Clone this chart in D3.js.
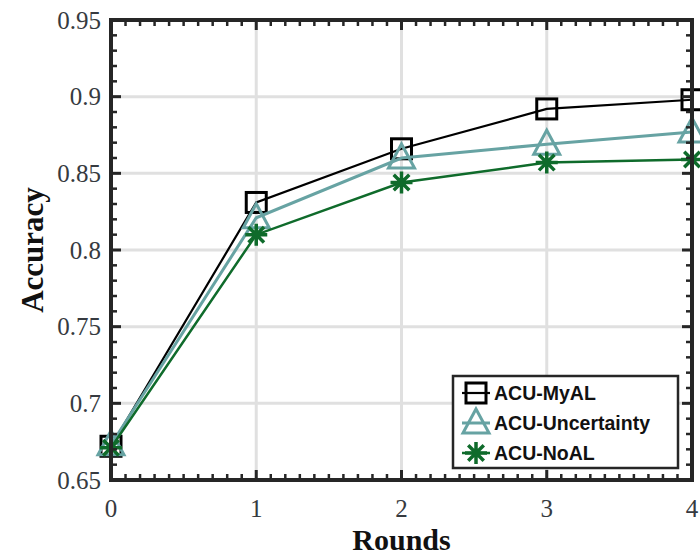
<!DOCTYPE html>
<html>
<head>
<meta charset="utf-8">
<script src="https://cdn.jsdelivr.net/npm/d3@7"></script>
<style>
  body { margin: 0; background: #fff; }
  svg { display: block; }
</style>
</head>
<body>
<div id="container"></div>
<script>
const width = 700;
const height = 556;
const margin = { top: 20, right: 8, bottom: 76, left: 111 };

const rounds = [0, 1, 2, 3, 4];
const myAL = [0.672, 0.831, 0.866, 0.892, 0.898];
const uncertainty = [0.673, 0.821, 0.860, 0.869, 0.877];
const noAL = [0.671, 0.810, 0.844, 0.857, 0.859];
const yTicks = [0.65, 0.7, 0.75, 0.8, 0.85, 0.9, 0.95];
const yTickLabels = ["0.65", "0.7", "0.75", "0.8", "0.85", "0.9", "0.95"];

const series = [
  { name: "ACU-MyAL", values: myAL, color: "#000000", width: 2.2, marker: "square" },
  { name: "ACU-Uncertainty", values: uncertainty, color: "#67a3a3", width: 3, marker: "triangle" },
  { name: "ACU-NoAL", values: noAL, color: "#0f6b2b", width: 2.5, marker: "star" }
];

const xScale = d3.scaleLinear()
  .domain([0, 4])
  .range([margin.left, width - margin.right]);

const yScale = d3.scaleLinear()
  .domain([0.65, 0.95])
  .range([height - margin.bottom, margin.top]);

const svg = d3.select("#container")
  .append("svg")
  .attr("width", width)
  .attr("height", height);

const x0 = xScale.range()[0], x1 = xScale.range()[1];
const y0 = yScale.range()[0], y1 = yScale.range()[1];

// grid
svg.append("g")
  .selectAll("line.gx")
  .data(rounds)
  .join("line")
  .attr("x1", d => xScale(d)).attr("x2", d => xScale(d))
  .attr("y1", y0).attr("y2", y1)
  .attr("stroke", "#e0e0e0").attr("stroke-width", 3);

svg.append("g")
  .selectAll("line.gy")
  .data(yTicks)
  .join("line")
  .attr("y1", d => yScale(d)).attr("y2", d => yScale(d))
  .attr("x1", x0).attr("x2", x1)
  .attr("stroke", "#e0e0e0").attr("stroke-width", 3);

// lines
const line = d3.line()
  .x((d, i) => xScale(rounds[i]))
  .y(d => yScale(d));

function drawMarker(g, type, color, cx, cy) {
  if (type === "square") {
    g.append("rect")
      .attr("x", cx - 10).attr("y", cy - 10)
      .attr("width", 20).attr("height", 20)
      .attr("fill", "none").attr("stroke", color).attr("stroke-width", 3);
  } else if (type === "triangle") {
    g.append("path")
      .attr("d", `M${cx},${cy - 14} L${cx + 13},${cy + 10} L${cx - 13},${cy + 10} Z`)
      .attr("fill", "none").attr("stroke", color).attr("stroke-width", 3)
      .attr("stroke-linejoin", "miter");
  } else {
    const r = 11;
    let d = "";
    [0, 45, 90, 135].forEach(a => {
      const rad = a * Math.PI / 180;
      d += `M${cx - r * Math.cos(rad)},${cy - r * Math.sin(rad)} L${cx + r * Math.cos(rad)},${cy + r * Math.sin(rad)} `;
    });
    g.append("path")
      .attr("d", d)
      .attr("stroke", color).attr("stroke-width", 3.5);
  }
}

series.forEach(s => {
  const g = svg.append("g");
  g.append("path")
    .datum(s.values)
    .attr("d", line)
    .attr("fill", "none")
    .attr("stroke", s.color)
    .attr("stroke-width", s.width);
  s.values.forEach((v, i) => drawMarker(g, s.marker, s.color, xScale(rounds[i]), yScale(v)));
});

// axes box and ticks
const axisColor = "#262626";
const minorX = d3.range(0, 4.0001, 0.1);
const minorY = d3.range(0.65, 0.9501, 0.01);

const ticks = svg.append("g").attr("stroke", axisColor);
minorX.forEach(v => {
  const major = Math.abs(v - Math.round(v)) < 1e-6;
  const len = major ? 10 : 6;
  const w = major ? 3 : 2.5;
  ticks.append("line").attr("x1", xScale(v)).attr("x2", xScale(v))
    .attr("y1", y0).attr("y2", y0 - len).attr("stroke-width", w);
  ticks.append("line").attr("x1", xScale(v)).attr("x2", xScale(v))
    .attr("y1", y1).attr("y2", y1 + len).attr("stroke-width", w);
});
minorY.forEach(v => {
  const major = yTicks.some(t => Math.abs(t - v) < 1e-6);
  const len = major ? 10 : 6;
  const w = major ? 3 : 2.5;
  ticks.append("line").attr("y1", yScale(v)).attr("y2", yScale(v))
    .attr("x1", x0).attr("x2", x0 + len).attr("stroke-width", w);
  ticks.append("line").attr("y1", yScale(v)).attr("y2", yScale(v))
    .attr("x1", x1).attr("x2", x1 - len).attr("stroke-width", w);
});

svg.append("rect")
  .attr("x", x0).attr("y", y1)
  .attr("width", x1 - x0).attr("height", y0 - y1)
  .attr("fill", "none")
  .attr("stroke", axisColor)
  .attr("stroke-width", 4);

// tick labels
const labelFont = "'Liberation Serif', 'Times New Roman', serif";
svg.append("g")
  .selectAll("text")
  .data(yTicks)
  .join("text")
  .attr("x", x0 - 10)
  .attr("y", d => yScale(d))
  .attr("dy", "0.35em")
  .attr("text-anchor", "end")
  .attr("font-family", labelFont)
  .attr("font-size", 25)
  .attr("fill", "#363a40")
  .text((d, i) => yTickLabels[i]);

svg.append("g")
  .selectAll("text")
  .data(rounds)
  .join("text")
  .attr("x", d => xScale(d))
  .attr("y", 517)
  .attr("text-anchor", "middle")
  .attr("font-family", labelFont)
  .attr("font-size", 25)
  .attr("fill", "#363a40")
  .text(d => d);

svg.append("text")
  .attr("x", (x0 + x1) / 2)
  .attr("y", 550)
  .attr("text-anchor", "middle")
  .attr("font-family", labelFont)
  .attr("font-weight", "bold")
  .attr("font-size", 30)
  .attr("fill", "#111")
  .text("Rounds");

svg.append("text")
  .attr("transform", `translate(43, ${(y0 + y1) / 2}) rotate(-90)`)
  .attr("text-anchor", "middle")
  .attr("font-family", labelFont)
  .attr("font-weight", "bold")
  .attr("font-size", 31)
  .attr("fill", "#111")
  .text("Accuracy");

// legend
const legend = svg.append("g");
legend.append("rect")
  .attr("x", 453).attr("y", 376)
  .attr("width", 225).attr("height", 92)
  .attr("fill", "#fff")
  .attr("stroke", axisColor)
  .attr("stroke-width", 2.5);

series.forEach((s, i) => {
  const cy = 393 + i * 30;
  legend.append("line")
    .attr("x1", 462).attr("x2", 490)
    .attr("y1", cy).attr("y2", cy)
    .attr("stroke", s.color).attr("stroke-width", s.width);
  drawMarker(legend, s.marker, s.color, 476, cy);
  legend.append("text")
    .attr("x", 494)
    .attr("y", cy)
    .attr("dy", "0.36em")
    .attr("font-family", "'Liberation Sans', Arial, sans-serif")
    .attr("font-weight", "bold")
    .attr("font-size", 19.5)
    .attr("fill", "#111")
    .text(s.name);
});
</script>
</body>
</html>
